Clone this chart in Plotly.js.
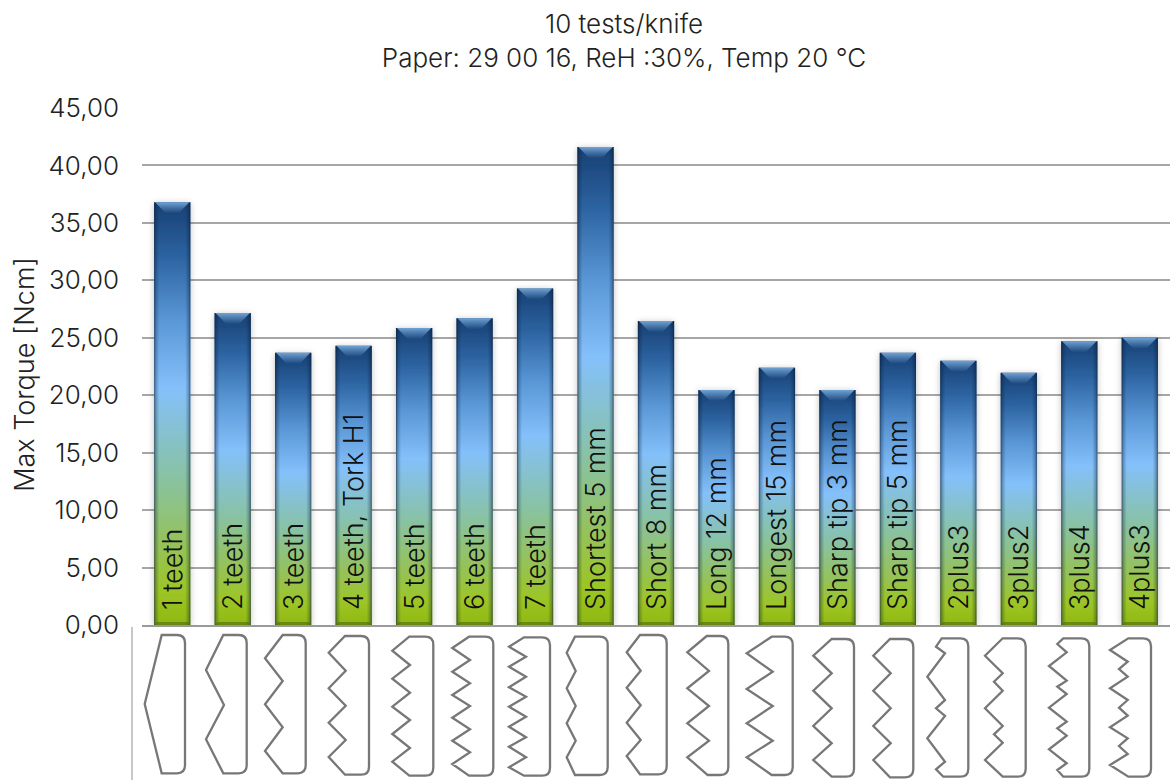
<!DOCTYPE html>
<html><head><meta charset="utf-8">
<script src="https://cdn.plot.ly/plotly-3.0.1.min.js"></script>
<style>html,body{margin:0;padding:0;background:#fff;overflow:hidden}</style></head>
<body><div id="gd" style="width:1172px;height:780px"></div>
<script>
const FONT = 'Inter, "Open Sans", sans-serif';
const categories = ['1 teeth','2 teeth','3 teeth','4 teeth, Tork H1','5 teeth','6 teeth','7 teeth','Shortest 5 mm','Short 8 mm','Long 12 mm','Longest 15 mm','Sharp tip 3 mm','Sharp tip 5 mm','2plus3','3plus2','3plus4','4plus3'];
const maxTorque = [36.8,27.15,23.7,24.3,25.85,26.7,29.3,41.6,26.45,20.45,22.4,20.45,23.7,23.0,21.95,24.7,25.0];

// Knife outlines: left edge profile (x,y) and right edge x, in page-pixel units of the overlay axes
const knife1  = {x:[161.7,144.7,161.7], y:[635,704,773.3], right:185};
const knife2  = {x:[223.3,206,224,206,223.3], y:[635,670,705,739.3,773.3], right:246.7};
const knife3  = {x:[282.7,265,282.7,265,282.7,265,282.7], y:[635,658.3,681,704.3,727.3,751,773.3], right:305.7};
const knife4  = {x:[345,328.7,345.7,328.7,345.7,328.7,345.7,328.7,345], y:[636,652.7,670.7,688.3,705.7,722.7,740,757,774.7], right:369};
const knife5  = {x:[409.3,392.3,410,392.3,410,392.3,410,392.3,410,392.3,409.3], y:[636.7,650.7,665,678.7,692.7,706.7,720,734,748,761.7,775.7], right:433.3};
const knife6  = {x:[469,452.3,470,452.3,470,452.3,470,452.3,470,452.3,470,452.3,469], y:[636.7,648,660,671.7,683.3,695,706,717.7,729.3,740.7,752.3,764,775.7], right:493.3};
const knife7  = {x:[524,509,526,509,526,509,526,509,526,509,526,509,526,509,524], y:[637.3,646.7,656.7,666.7,676.7,687.3,696.7,706.7,716.7,726.7,737.3,746.7,757.3,767.3,775.7], right:550};
const knife8  = {x:[575,566.7,575.7,566.7,575.7,566.7,575.7,566.7,575], y:[636.7,652.7,671,688.3,706,723.3,740.7,757.3,775], right:607.7};
const knife9  = {x:[640,626.7,640.7,626.7,640.7,626.7,640.7,626.7,640], y:[635,652.3,670.7,687.7,705.3,722.7,740,756,774.3], right:666.7};
const knife10 = {x:[706.7,687.3,709,687.3,709,687.3,709,687.3,707.7], y:[636,652.3,671,688.3,706,723.3,740.7,757.3,775], right:728.3};
const knife11 = {x:[771.7,746.7,772.7,746.7,772.7,746.7,772.7,746.7,771.7], y:[636.7,653.3,671.7,689,706,723.3,740.7,757.3,775], right:792.7};
const knife12 = {x:[831.7,813.3,831.7,813.3,831.7,813.3,831.7,813.3,831.7], y:[639,655.7,673.3,690.7,708.3,726,743.3,760,776.7], right:854};
const knife13 = {x:[890,873.3,890.7,873.3,890.7,873.3,890.7,873.3,890], y:[639,655.7,673.3,690.7,708.3,726,743.3,760,777.3], right:913.3};
const knife14 = {x:[941.7,936,945,927.3,945,936,945,927.3,945,936,943.3], y:[638.3,646.7,653.3,676.7,700,708.3,716,738.3,761.7,769.3,776.7], right:968.3};
const knife15 = {x:[1002.7,985,1002.7,994,1002.7,985,1002.7,994,1002.7,985,1002.7], y:[638.3,655.7,673.3,681.7,690.7,708.3,726,734.3,742.7,760,776.7], right:1025.7};
const knife16 = {x:[1063.3,1057.3,1066.7,1049,1066.7,1057.3,1066.7,1049,1066.7,1057.3,1066.7,1049,1066.7,1057.3,1063.3], y:[638.3,644,652.3,666,680.7,686.7,694,707.7,721.7,728.3,735.7,749.3,763.3,770,776.7], right:1089.3};
const knife17 = {x:[1128.3,1110,1127.7,1119,1127.7,1110,1127.7,1119,1127.7,1110,1127.7,1119,1127.7,1110,1128.3], y:[638.3,650,661.7,669,676.7,688.3,700,707.7,715.7,727.3,738.3,746,754,765,776.7], right:1151};
const knives = [knife1,knife2,knife3,knife4,knife5,knife6,knife7,knife8,knife9,knife10,knife11,knife12,knife13,knife14,knife15,knife16,knife17];

const leftRuleX = [132,132];
const leftRuleY = [627,780];

const R = 8;
function knifePath(k){
  const n = k.x.length, top = k.y[0], bot = k.y[n-1];
  let d = 'M' + k.x[0] + ',' + top;
  d += ' L' + (k.right-R) + ',' + top + ' Q' + k.right + ',' + top + ' ' + k.right + ',' + (top+R);
  d += ' L' + k.right + ',' + (bot-R) + ' Q' + k.right + ',' + bot + ' ' + (k.right-R) + ',' + bot;
  for(let i=n-1;i>=0;i--) d += ' L' + k.x[i] + ',' + k.y[i];
  return d + ' Z';
}

const traces = [
 {type:'bar', x:categories, y:maxTorque, text:categories, textposition:'inside', insidetextanchor:'start',
  textangle:-90, constraintext:'none', cliponaxis:false, insidetextfont:{family:FONT,size:27,weight:300,color:'#111'},
  marker:{color:'#5a8fc8', line:{width:0}}, hoverinfo:'skip', showlegend:false},
 {type:'scatter', mode:'lines', xaxis:'x2', yaxis:'y2', x:leftRuleX, y:leftRuleY,
  line:{color:'#b4b4b4',width:1.5}, hoverinfo:'skip', showlegend:false}
];

const layout = {
 width:1172, height:780, margin:{l:0,r:0,t:0,b:0,pad:0}, paper_bgcolor:'#fff', plot_bgcolor:'rgba(0,0,0,0)',
 separators:',.', bargap:0.4, showlegend:false, font:{family:FONT,color:'#222'},
 title:{text:'10 tests/knife<br>Paper: 29 00 16, ReH :30%, Temp 20 °C', x:624/1172, xanchor:'center', y:1-33/780, yanchor:'top',
        font:{family:FONT,size:26,weight:300,color:'#222'}},
 xaxis:{domain:[142/1172,1170/1172], range:[-0.5,16.5], showticklabels:false, ticks:'', showgrid:false, type:'category',
        categoryorder:'array', categoryarray:categories, showline:true, linecolor:'#9a9a9a', linewidth:2, zeroline:false, fixedrange:true},
 yaxis:{domain:[155/780,672/780], range:[0,45], dtick:5, tickformat:'.2f', gridcolor:'#a6a6a6', gridwidth:2, zeroline:false,
        showline:false, ticks:'', ticklen:0, ticklabelstandoff:22, tickfont:{family:FONT,size:26,weight:300,color:'#222'}, fixedrange:true,
        title:{text:'Max Torque [Ncm]', font:{family:FONT,size:27,weight:300,color:'#222'}, standoff:5}},
 xaxis2:{domain:[0,1], range:[0,1172], visible:false, anchor:'y2', fixedrange:true},
 yaxis2:{domain:[0,1], range:[780,0], visible:false, anchor:'x2', fixedrange:true},
 shapes: knives.map(k=>({type:'path', xref:'x2', yref:'y2', path:knifePath(k), line:{color:'#777777',width:2.3}, fillcolor:'rgba(0,0,0,0)', layer:'above'}))
};

const NS='http://www.w3.org/2000/svg';
function el(tag,attrs,parent){const e=document.createElementNS(NS,tag);for(const k in attrs)e.setAttribute(k,attrs[k]);if(parent)parent.appendChild(e);return e;}
function grad(defs,id,vertical,stops){
  const g=el('linearGradient',vertical?{id,x1:0,y1:1,x2:0,y2:0}:{id,x1:0,y1:0,x2:1,y2:0},defs);
  stops.forEach(s=>el('stop',{offset:s[0],'stop-color':s[1],'stop-opacity':s[2]===undefined?1:s[2]},g));
}
Plotly.newPlot('gd',traces,layout,{staticPlot:true,displayModeBar:false}).then(gd=>{
  const svg=gd.querySelector('svg.main-svg');
  const defs=el('defs',{},svg);
  grad(defs,'barFill',true,[[0,'#8fb80f'],[0.08,'#9cc526'],[0.2,'#94c25e'],[0.36,'#88c2a8'],[0.56,'#84c0fa'],[0.72,'#5a97d6'],[0.87,'#2d64a2'],[1,'#173f72']]);
  grad(defs,'barEdge',false,[[0,'#061a33',0.65],[0.05,'#061a33',0.28],[0.14,'#061a33',0],[0.86,'#061a33',0],[0.95,'#061a33',0.28],[1,'#061a33',0.65]]);
  const tg=el('linearGradient',{id:'bevelTop',x1:0,y1:0,x2:0,y2:1},defs);
  el('stop',{offset:0,'stop-color':'#7aaee0','stop-opacity':0.9},tg);
  el('stop',{offset:1,'stop-color':'#7aaee0','stop-opacity':0},tg);
  const f=el('filter',{id:'soft',x:'-30%',y:'-5%',width:'160%',height:'110%'},defs);
  el('feDropShadow',{dx:0,dy:1,stdDeviation:3,'flood-color':'#000','flood-opacity':0.25},f);
  gd.querySelectorAll('.barlayer .point').forEach(pt=>{
    const p=pt.querySelector('path'); const b=p.getBBox();
    p.setAttribute('style','fill:url(#barFill);stroke:none'); p.setAttribute('filter','url(#soft)');
    const next=p.nextSibling;
    const add=(tag,a)=>{const e=el(tag,a);pt.insertBefore(e,next);return e;};
    add('rect',{x:b.x,y:b.y,width:b.width,height:b.height,fill:'url(#barEdge)'});
    const h=11,i=b.width*0.32;
    add('polygon',{points:`${b.x+1},${b.y} ${b.x+b.width-1},${b.y} ${b.x+b.width-i},${b.y+h} ${b.x+i},${b.y+h}`,fill:'url(#bevelTop)'});
    add('polygon',{points:`${b.x},${b.y+b.height} ${b.x+b.width},${b.y+b.height} ${b.x+b.width-3},${b.y+b.height-3} ${b.x+3},${b.y+b.height-3}`,fill:'#4d6a10','fill-opacity':0.6});
    const t=pt.querySelector('text');
    if(t){const tr=t.getAttribute('transform')||'';t.setAttribute('transform','translate(0,-12) '+tr);}
  });
  const yt=gd.querySelector('.ytitle');
  if(yt){const tr=yt.getAttribute('transform')||'';yt.setAttribute('transform','translate(0,8) '+tr);}
});
</script></body></html>
